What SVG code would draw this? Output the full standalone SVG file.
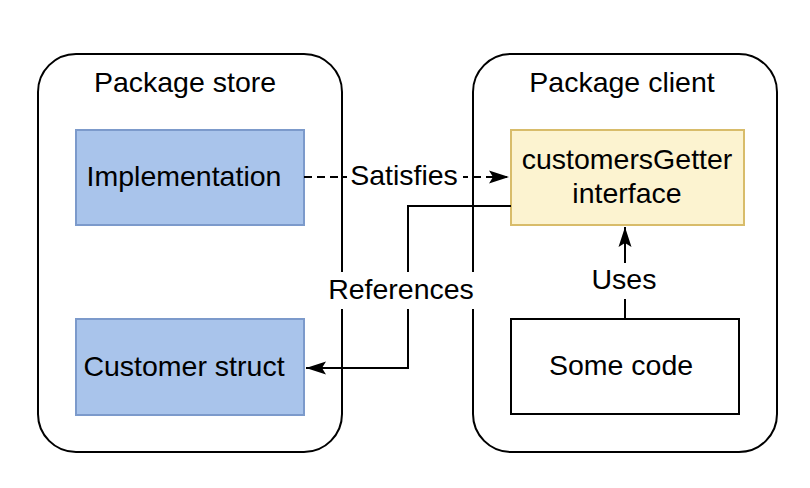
<svg xmlns="http://www.w3.org/2000/svg" width="810" height="488" viewBox="0 0 810 488">
  <style>
    text { font-family: "Liberation Sans", Arial, sans-serif; font-size: 28.5px; fill: #000; text-anchor: middle; }
    .container { fill: #fff; stroke: #000; stroke-width: 2; }
    .blue { fill: #A9C4EB; stroke: #7C9ACB; stroke-width: 2; }
    .yellow { fill: #FCF3D0; stroke: #D8BC6A; stroke-width: 2; }
    .plain { fill: #fff; stroke: #000; stroke-width: 2; }
    .edge { fill: none; stroke: #000; stroke-width: 2; }
    .dashed { stroke-dasharray: 8 5; }
    .lbl { fill: #fff; stroke: none; }
  </style>
  <defs>
    <marker id="arrow" markerUnits="userSpaceOnUse" markerWidth="22" markerHeight="16" viewBox="0 0 22 16" refX="20" refY="8" orient="auto">
      <path d="M0,1.5 L20,8 L0,14.5 L4,8 Z" fill="#000" stroke="none"/>
    </marker>
  </defs>
  <rect width="810" height="488" fill="#fff"/>

  <g id="package-store">
    <rect class="container" x="38" y="54" width="304" height="398" rx="38" ry="38"/>
    <text x="185" y="92">Package store</text>
  </g>
  <g id="package-client">
    <rect class="container" x="473" y="54" width="304" height="398" rx="38" ry="38"/>
    <text x="622" y="92">Package client</text>
  </g>

  <g id="implementation">
    <rect class="blue" x="76" y="130" width="228" height="95"/>
    <text x="184" y="186">Implementation</text>
  </g>
  <g id="customer-struct">
    <rect class="blue" x="76" y="319" width="228" height="96"/>
    <text x="184" y="376">Customer struct</text>
  </g>
  <g id="customers-getter">
    <rect class="yellow" x="511" y="130" width="233" height="95"/>
    <text x="627" y="169">customersGetter</text>
    <text x="627" y="203">interface</text>
  </g>
  <g id="some-code">
    <rect class="plain" x="511" y="319" width="228" height="95"/>
    <text x="621" y="375">Some code</text>
  </g>

  <g id="connectors">
    <path class="edge dashed" d="M304,177 L509,177" marker-end="url(#arrow)"/>
    <path class="edge" d="M511,206 L408,206 L408,368 L306,368" marker-end="url(#arrow)"/>
    <path class="edge" d="M625,319 L625,227" marker-end="url(#arrow)"/>

    <rect class="lbl" x="347" y="163" width="116" height="30"/>
    <text x="404" y="185">Satisfies</text>
    <rect class="lbl" x="327" y="272" width="149" height="37"/>
    <text x="401" y="299">References</text>
    <rect class="lbl" x="589" y="263" width="72" height="36"/>
    <text x="624" y="289">Uses</text>
  </g>
</svg>
